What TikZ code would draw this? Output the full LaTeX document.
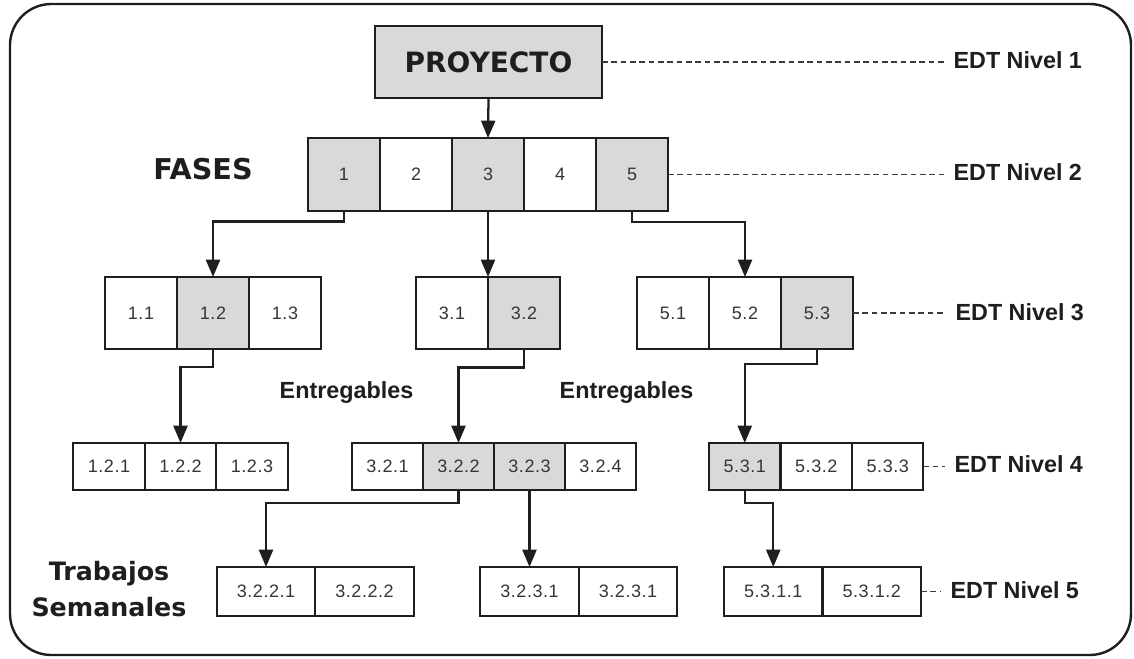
\documentclass[tikz,border=0pt]{standalone}
\usepackage{fontspec}
\setmainfont{Liberation Sans}
\newfontfamily\widefont{DejaVu Sans}
\newfontfamily\cellfont[LetterSpace=3]{Liberation Sans}
\usetikzlibrary{arrows.meta}
\definecolor{boxfill}{HTML}{D9D9D9}
\definecolor{ink}{HTML}{1E1E1E}
\definecolor{dashink}{HTML}{3A3A3A}

\begin{document}
\begin{tikzpicture}[x=0.75pt,y=-0.75pt,
  cellbase/.style={draw=ink, line width=1.5pt, inner sep=0pt, outer sep=0pt,
    text=ink!90, font=\cellfont\fontsize{13.5}{15}\selectfont},
  shaded/.style={fill=boxfill},
  lvtwo/.style={cellbase, minimum width=54pt, minimum height=54.75pt},
  lvthree/.style={cellbase, minimum width=54pt, minimum height=54pt},
  lvfour/.style={cellbase, minimum width=53.6pt, minimum height=35.25pt},
  lvfive/.style={cellbase, minimum width=73.9pt, minimum height=36.75pt},
  projbox/.style={cellbase, fill=boxfill, minimum width=170.25pt, minimum height=54pt,
    font=\widefont\bfseries\fontsize{21}{24}\selectfont, text=ink},
  bigtitle/.style={inner sep=0pt, text=ink, font=\widefont\bfseries\fontsize{21.5}{24}\selectfont,
    text height=15.6pt, text depth=0pt},
  levellabel/.style={anchor=west, inner ysep=0pt, inner xsep=7pt, text=ink,
    font=\bfseries\fontsize{17.5}{19}\selectfont, text height=12.5pt, text depth=0pt},
  sidelabel/.style={inner sep=0pt, text=ink,
    font=\bfseries\fontsize{17.5}{19}\selectfont, text height=12.5pt, text depth=0pt},
  arr/.style={draw=ink, line width=1.7pt, -{Triangle[length=13pt,width=10.5pt]}},
  levelline/.style={draw=dashink, line width=1.3pt, dash pattern=on 4.2pt off 2.8pt}
]
\useasboundingbox (0,0) rectangle (1134,658);

% outer frame
\draw[draw=ink, line width=1.8pt, rounded corners=31pt] (10,4) rectangle (1131,655);

% level 1
\node[projbox] (p) at (488.5,62) {PROYECTO};

% level 2: phases
\node[bigtitle] (fases) at (203,169) {FASES};
\node[lvtwo, shaded] (f1) at (344,174.5) {1};
\node[lvtwo]         (f2) at (416,174.5) {2};
\node[lvtwo, shaded] (f3) at (488,174.5) {3};
\node[lvtwo]         (f4) at (560,174.5) {4};
\node[lvtwo, shaded] (f5) at (632,174.5) {5};

% level 3
\node[lvthree]         (a11) at (141,313) {1.1};
\node[lvthree, shaded] (a12) at (213,313) {1.2};
\node[lvthree]         (a13) at (285,313) {1.3};
\node[lvthree]         (a31) at (452,313) {3.1};
\node[lvthree, shaded] (a32) at (524,313) {3.2};
\node[lvthree]         (a51) at (673,313) {5.1};
\node[lvthree]         (a52) at (745,313) {5.2};
\node[lvthree, shaded] (a53) at (817,313) {5.3};

% level 4
\node[lvfour]         (b121) at (109,466.5) {1.2.1};
\node[lvfour]         (b122) at (180.5,466.5) {1.2.2};
\node[lvfour]         (b123) at (252,466.5) {1.2.3};
\node[lvfour]         (b321) at (387.5,466.5) {3.2.1};
\node[lvfour, shaded] (b322) at (458.5,466.5) {3.2.2};
\node[lvfour, shaded] (b323) at (529.5,466.5) {3.2.3};
\node[lvfour]         (b324) at (600.5,466.5) {3.2.4};
\node[lvfour, shaded] (b531) at (744.75,466.5) {5.3.1};
\node[lvfour]         (b532) at (816.25,466.5) {5.3.2};
\node[lvfour]         (b533) at (887.75,466.5) {5.3.3};

% level 5
\node[lvfive] (c3221) at (266,591.5) {3.2.2.1};
\node[lvfive] (c3222) at (364.5,591.5) {3.2.2.2};
\node[lvfive] (c3231) at (529.5,591.5) {3.2.3.1};
\node[lvfive] (c3232) at (628,591.5) {3.2.3.1};
\node[lvfive] (c5311) at (773.25,591.5) {5.3.1.1};
\node[lvfive] (c5312) at (871.75,591.5) {5.3.1.2};

% side captions
\node[sidelabel] (ent1) at (346.5,390) {Entregables};
\node[sidelabel] (ent2) at (626.5,390) {Entregables};
\node[align=center, inner sep=0pt, text=ink,
      font=\widefont\bfseries\fontsize{19}{27}\selectfont] (trab) at (109,589) {Trabajos\\Semanales};

% level captions
\node[levellabel] (l1) at (944,60)    {EDT Nivel 1};
\node[levellabel] (l2) at (944,172)   {EDT Nivel 2};
\node[levellabel] (l3) at (946,312.5) {EDT Nivel 3};
\node[levellabel] (l4) at (945,464)   {EDT Nivel 4};
\node[levellabel] (l5) at (941,590)   {EDT Nivel 5};

\draw[levelline] (p.east)    -- (p.east -| l1.west);
\draw[levelline] (f5.east)   -- (f5.east -| l2.west);
\draw[levelline] (a53.east)  -- (a53.east -| l3.west);
\draw[levelline] (b533.east) -- (b533.east -| l4.west);
\draw[levelline] (c5312.east)-- (c5312.east -| l5.west);

% connectors
\draw[arr] (p.south) -- (f3.north);
\draw[arr] (f1.south) -- (f1.south |- 0,221.5) -| (a12.north);
\draw[arr] (f3.south) -- (a31.north east);
\draw[arr] (f5.south) -- (f5.south |- 0,222) -| (a52.north);
\draw[arr] (a12.south) -- (a12.south |- 0,367) -| (b122.north);
\draw[arr] (a32.south) -- (a32.south |- 0,367.5) -| (b322.north);
\draw[arr] (a53.south) -- (a53.south |- 0,364) -| (b531.north);
\draw[arr] (b322.south) -- (b322.south |- 0,503) -| (c3221.north);
\draw[arr] (b323.south) -- (c3231.north);
\draw[arr] (b531.south) -- (b531.south |- 0,503) -| (c5311.north);
\end{tikzpicture}
\end{document}
